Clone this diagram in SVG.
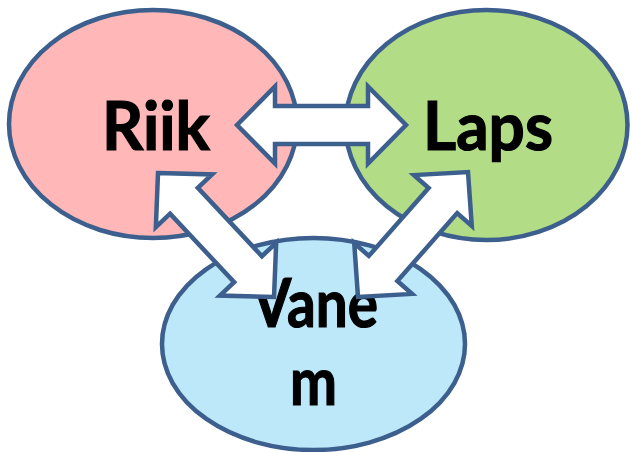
<svg xmlns="http://www.w3.org/2000/svg" width="633" height="452" viewBox="0 0 633 452">
  <style>
    .node ellipse { stroke: #3C5F8E; stroke-width: 4.5; }
    .label { font-family: Lato, "Open Sans", "Liberation Sans", sans-serif; font-weight: bold; font-size: 66px; fill: #000; stroke: #000; stroke-width: 1.2; text-anchor: middle; }
    .arrow { fill: #FFFFFF; stroke: #3C5F8E; stroke-width: 4.5; stroke-linejoin: miter; }
  </style>
  <rect width="633" height="452" fill="#FFFFFF"/>

  <g id="node-riik" class="node">
    <ellipse cx="153" cy="124" rx="144" ry="114" fill="#FFB7B7"/>
    <text class="label" x="156" y="150" textLength="108" lengthAdjust="spacingAndGlyphs">Riik</text>
  </g>

  <g id="node-laps" class="node">
    <ellipse cx="486.5" cy="125" rx="141" ry="115" fill="#B3DC87"/>
    <text class="label" x="488" y="150" textLength="130" lengthAdjust="spacingAndGlyphs">Laps</text>
  </g>

  <g id="node-vanem" class="node">
    <ellipse cx="313.5" cy="344" rx="151.5" ry="106" fill="#BDE8FA"/>
    <text class="label" x="315" y="327" textLength="126" lengthAdjust="spacingAndGlyphs">Vane</text>
    <text class="label" x="313.5" y="405" textLength="47" lengthAdjust="spacingAndGlyphs">m</text>
  </g>

  <!-- double-headed block arrows, each laid out along +x from one tip, then rotated -->
  <g id="connectors">
    <polygon id="riik-laps" class="arrow" transform="translate(237,125)"
      points="0,0 38,-38.5 38,-19 131,-19 131,-38.5 169,0 131,38.5 131,19 38,19 38,38.5"/>
    <polygon id="riik-vanem" class="arrow" transform="translate(158,173) rotate(46.9)"
      points="0,0 38,-38.5 38,-19 131.8,-19 131.8,-38.5 169.8,0 131.8,38.5 131.8,19 38,19 38,38.5"/>
    <polygon id="vanem-laps" class="arrow" transform="translate(358,297) rotate(-48.65)"
      points="0,0 38,-38.5 38,-19 128.5,-19 128.5,-38.5 166.5,0 128.5,38.5 128.5,19 38,19 38,38.5"/>
  </g>
</svg>
